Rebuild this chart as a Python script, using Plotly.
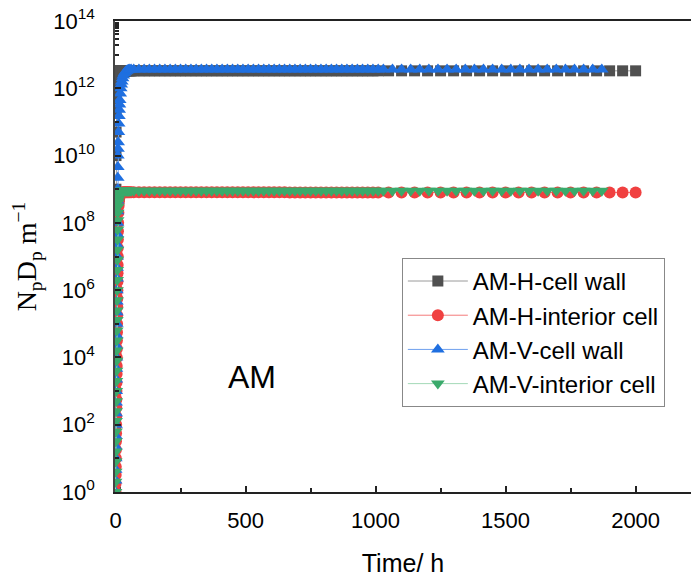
import plotly.graph_objects as go

# ---- time grids (h) ----
t_rise = [0, 0.3, 0.6, 0.9, 1.2, 1.5, 1.8, 2.1, 2.4, 2.7, 3.0, 3.3, 3.6, 3.9, 4.2,
          4.5, 4.8, 5.1, 5.4, 5.7, 6.0, 6.3, 6.6, 6.9, 7.2, 7.5, 7.8, 8.1, 8.4, 8.7, 9.0,
          9.5, 10, 11, 12, 13, 14, 15, 16, 18, 20, 22, 24, 27, 30, 34, 38, 42, 46, 50, 55, 60]
t_mid = [70, 90, 110, 130, 150, 170, 190, 210, 230, 250,
         270, 290, 310, 330, 350, 370, 390, 410, 430, 450,
         470, 490, 510, 530, 550, 570, 590, 610, 630, 650,
         670, 690, 710, 730, 750, 770, 790, 810, 830, 850,
         870, 890, 910, 930, 950, 970, 990, 1010]
t_tail_H = [1050, 1100, 1150, 1200, 1250, 1300, 1350, 1400, 1450, 1500,
            1550, 1600, 1650, 1700, 1750, 1800, 1850, 1900, 1950, 2000]
t_tail_V = [1030, 1065, 1100, 1135, 1170, 1205, 1240, 1275, 1310, 1345,
            1380, 1415, 1450, 1485, 1520, 1555, 1590, 1625, 1660, 1695,
            1730, 1765, 1800, 1835, 1870]

# ---- AM-H-cell wall ----
h_wall_rise = [1, 1e2, 1e4, 1e6, 1e8, 1e9, 1e10, 5e10, 2e11, 5e11,
               1e12, 1.5e12, 2e12, 2.4e12, 2.7e12, 2.9e12, 3.0e12, 3.1e12, 3.15e12, 3.2e12,
               3.25e12, 3.3e12, 3.3e12, 3.3e12, 3.3e12, 3.3e12, 3.3e12, 3.3e12, 3.3e12, 3.3e12,
               3.3e12, 3.3e12, 3.3e12, 3.3e12, 3.3e12, 3.3e12, 3.3e12, 3.3e12, 3.3e12, 3.3e12,
               3.3e12, 3.3e12, 3.3e12, 3.3e12, 3.3e12, 3.3e12, 3.3e12, 3.3e12, 3.3e12, 3.3e12,
               3.3e12, 3.3e12]
h_wall_mid = [3.3e12, 3.3e12, 3.3e12, 3.3e12, 3.3e12, 3.3e12, 3.3e12, 3.3e12, 3.3e12, 3.3e12,
              3.3e12, 3.3e12, 3.3e12, 3.3e12, 3.3e12, 3.3e12, 3.3e12, 3.3e12, 3.3e12, 3.3e12,
              3.3e12, 3.3e12, 3.3e12, 3.3e12, 3.3e12, 3.3e12, 3.3e12, 3.3e12, 3.3e12, 3.3e12,
              3.3e12, 3.3e12, 3.3e12, 3.3e12, 3.3e12, 3.3e12, 3.3e12, 3.3e12, 3.3e12, 3.3e12,
              3.3e12, 3.3e12, 3.3e12, 3.3e12, 3.3e12, 3.3e12, 3.3e12, 3.3e12]
h_wall_tail = [3.3e12, 3.3e12, 3.3e12, 3.3e12, 3.3e12, 3.3e12, 3.3e12, 3.3e12, 3.3e12, 3.3e12,
               3.3e12, 3.3e12, 3.3e12, 3.3e12, 3.3e12, 3.3e12, 3.3e12, 3.3e12, 3.3e12, 3.3e12]

# ---- AM-H-interior cell ----
h_int_rise = [1, 1.8, 3.2, 5.6, 10, 18, 32, 56, 1e2, 1.8e2,
              3.2e2, 5.6e2, 1e3, 1.8e3, 3.2e3, 5.6e3, 1e4, 1.8e4, 3.2e4, 5.6e4,
              1e5, 1.8e5, 3.2e5, 5.6e5, 1e6, 1.8e6, 3.2e6, 5.6e6, 1e7, 1.8e7, 3.2e7,
              5.6e7, 1e8, 2e8, 3.2e8, 4.3e8, 5.2e8, 5.9e8, 6.4e8, 7.1e8, 7.5e8,
              7.8e8, 7.9e8, 8.0e8, 8.1e8, 8.1e8, 8.1e8, 8.1e8, 8.1e8, 8.1e8, 8.1e8, 8.1e8]
h_int_mid = [8.1e8, 8.1e8, 8.1e8, 8.1e8, 8.1e8, 8.1e8, 8.1e8, 8.1e8, 8.1e8, 8.1e8,
             8.1e8, 8.1e8, 8.1e8, 8.1e8, 8.1e8, 8.1e8, 8.1e8, 8.1e8, 8.1e8, 8.1e8,
             8.1e8, 8.1e8, 8.1e8, 8.1e8, 8.1e8, 8.1e8, 8.1e8, 8.1e8, 8.1e8, 8.1e8,
             8.0e8, 8.0e8, 8.0e8, 8.0e8, 8.0e8, 8.0e8, 8.0e8, 8.0e8, 8.0e8, 8.0e8,
             8.0e8, 8.0e8, 8.0e8, 8.0e8, 8.0e8, 8.0e8, 8.0e8, 8.0e8]
h_int_tail = [8.0e8, 8.0e8, 8.0e8, 8.0e8, 8.0e8, 8.0e8, 8.0e8, 8.0e8, 8.0e8, 8.0e8,
              8.0e8, 8.0e8, 8.0e8, 8.0e8, 8.0e8, 8.0e8, 8.0e8, 8.0e8, 8.0e8, 8.0e8]

# ---- AM-V-cell wall ----
v_wall_rise = [1, 2.2, 4.6, 10, 22, 46, 1e2, 2.2e2, 4.6e2, 1e3,
               2.2e3, 4.6e3, 1e4, 2.2e4, 4.6e4, 1e5, 2.2e5, 4.6e5, 1e6, 2.2e6,
               4.6e6, 1e7, 2.2e7, 4.6e7, 1e8, 2.2e8, 4.6e8, 1e9, 2.2e9, 4.6e9, 1e10,
               1.6e10, 2.5e10, 5e10, 9e10, 1.5e11, 2.3e11, 3.3e11, 4.5e11, 7e11, 1e12,
               1.3e12, 1.6e12, 2.0e12, 2.4e12, 2.8e12, 3.1e12, 3.3e12, 3.45e12, 3.55e12, 3.6e12, 3.6e12]
v_wall_mid = [3.6e12, 3.6e12, 3.6e12, 3.6e12, 3.6e12, 3.6e12, 3.6e12, 3.6e12, 3.6e12, 3.6e12,
              3.6e12, 3.6e12, 3.6e12, 3.6e12, 3.6e12, 3.6e12, 3.6e12, 3.6e12, 3.6e12, 3.6e12,
              3.6e12, 3.6e12, 3.6e12, 3.6e12, 3.6e12, 3.6e12, 3.6e12, 3.6e12, 3.6e12, 3.6e12,
              3.6e12, 3.6e12, 3.6e12, 3.6e12, 3.6e12, 3.6e12, 3.6e12, 3.6e12, 3.6e12, 3.6e12,
              3.6e12, 3.6e12, 3.6e12, 3.6e12, 3.6e12, 3.6e12, 3.6e12, 3.6e12]
v_wall_tail = [3.6e12, 3.6e12, 3.6e12, 3.6e12, 3.6e12, 3.6e12, 3.6e12, 3.6e12, 3.6e12, 3.6e12,
               3.6e12, 3.6e12, 3.6e12, 3.6e12, 3.6e12, 3.6e12, 3.6e12, 3.6e12, 3.6e12, 3.6e12,
               3.6e12, 3.6e12, 3.6e12, 3.6e12, 3.6e12]

# ---- AM-V-interior cell ----
v_int_rise = [1, 2, 4, 8, 16, 32, 63, 1.3e2, 2.5e2, 5e2,
              1e3, 2e3, 4e3, 8e3, 1.6e4, 3.2e4, 6.3e4, 1.3e5, 2.5e5, 5e5,
              1e6, 2e6, 4e6, 8e6, 1.6e7, 3.2e7, 6.3e7, 1.2e8, 2e8, 3e8, 4e8,
              4.8e8, 5.4e8, 6.3e8, 7.0e8, 7.5e8, 7.9e8, 8.2e8, 8.4e8, 8.7e8, 8.8e8,
              8.9e8, 9.0e8, 9.0e8, 9.0e8, 9.0e8, 9.0e8, 9.0e8, 9.0e8, 9.0e8, 9.0e8, 9.0e8]
v_int_mid = [9.0e8, 9.0e8, 9.0e8, 9.0e8, 9.0e8, 9.0e8, 9.0e8, 9.0e8, 9.0e8, 9.0e8,
             9.0e8, 9.0e8, 9.0e8, 9.0e8, 9.0e8, 9.0e8, 9.0e8, 9.0e8, 9.0e8, 9.0e8,
             9.0e8, 9.0e8, 9.0e8, 9.0e8, 9.0e8, 9.0e8, 9.0e8, 9.0e8, 9.0e8, 9.0e8,
             9.0e8, 9.0e8, 9.0e8, 9.0e8, 9.0e8, 9.0e8, 9.0e8, 9.0e8, 9.0e8, 9.0e8,
             9.0e8, 9.0e8, 9.0e8, 9.0e8, 9.0e8, 9.0e8, 9.0e8, 9.0e8]
v_int_tail = [9.0e8, 9.0e8, 9.0e8, 9.0e8, 9.0e8, 9.0e8, 9.0e8, 9.0e8, 9.0e8, 9.0e8,
              9.0e8, 9.0e8, 9.0e8, 9.0e8, 9.0e8, 9.0e8, 9.0e8, 9.0e8, 9.0e8, 9.0e8,
              9.0e8, 9.0e8, 9.0e8, 9.0e8, 9.0e8]

series_names = ["AM-H-cell wall", "AM-H-interior cell", "AM-V-cell wall", "AM-V-interior cell"]
x_ticks = [0, 500, 1000, 1500, 2000]
x_minor_vals = [250, 750, 1250, 1750]
y_tick_vals = [1e0, 1e2, 1e4, 1e6, 1e8, 1e10, 1e12, 1e14]
y_tick_text = ["10<sup>0</sup>", "10<sup>2</sup>", "10<sup>4</sup>", "10<sup>6</sup>",
               "10<sup>8</sup>", "10<sup>10</sup>", "10<sup>12</sup>", "10<sup>14</sup>"]
y_minor_vals = [1e1, 1e3, 1e5, 1e7, 1e9, 1e11, 1e13,
                2e13, 3e13, 4e13, 5e13, 6e13, 7e13, 8e13, 9e13]

time_H = t_rise + t_mid + t_tail_H
time_V = t_rise + t_mid + t_tail_V

data = [
    (time_H, h_wall_rise + h_wall_mid + h_wall_tail, "#505050", "#9a9a9a", "square", 11),
    (time_H, h_int_rise + h_int_mid + h_int_tail, "#f04040", "#f47a7a", "circle", 12),
    (time_V, v_wall_rise + v_wall_mid + v_wall_tail, "#1f6fe0", "#6ea0ee", "triangle-up", 12),
    (time_V, v_int_rise + v_int_mid + v_int_tail, "#3aaa6b", "#a3d9b8", "triangle-down", 12),
]

fig = go.Figure()
for name, (xs, ys, mc, lc, sym, sz) in zip(series_names, data):
    fig.add_trace(go.Scatter(
        x=xs, y=ys, name=name, mode="lines+markers",
        line=dict(color=lc, width=1),
        marker=dict(color=mc, symbol=sym, size=sz, line=dict(width=0)),
    ))

fig.add_annotation(x=0.238, y=0.244, xref="paper", yref="paper", text="AM",
                   xanchor="center", yanchor="middle",
                   showarrow=False, font=dict(size=32, color="black",
                                              family="Liberation Sans, Arial"))

fig.update_layout(
    width=691, height=577,
    margin=dict(l=115, r=0, t=21, b=85),
    paper_bgcolor="white", plot_bgcolor="white",
    font=dict(family="Liberation Sans, Arial", color="black", size=22),
    legend=dict(x=0.498, y=0.497, xanchor="left", yanchor="top",
                bordercolor="#888888", borderwidth=1, bgcolor="white",
                font=dict(size=24, family="Liberation Sans, Arial"),
                itemwidth=60, tracegroupgap=0),
    showlegend=True,
)
fig.update_xaxes(
    range=[-2, 2213], showline=True, linecolor="#222222", linewidth=1.5, mirror=True,
    ticks="inside", ticklen=6, tickwidth=1.5, tickcolor="#222222",
    tickvals=x_ticks, ticktext=[str(v) for v in x_ticks],
    minor=dict(tickvals=x_minor_vals, ticks="inside", ticklen=4, tickwidth=1.5, tickcolor="#222222"),
    showgrid=False, zeroline=False, ticklabelstandoff=8,
    tickfont=dict(size=22),
    title=dict(text="Time/ h", font=dict(size=25), standoff=24),
)
fig.update_yaxes(
    type="log", range=[0, 14], showline=True, linecolor="#444444", linewidth=1.5, mirror=False,
    ticks="inside", ticklen=6, tickwidth=1.5, tickcolor="#222222",
    tickvals=y_tick_vals, ticktext=y_tick_text,
    minor=dict(tickvals=y_minor_vals, ticks="inside", ticklen=4, tickwidth=1.5, tickcolor="#222222"),
    showgrid=False, zeroline=False, ticklabelstandoff=14,
    tickfont=dict(size=22),
    title=dict(text="N<sub>p</sub>D<sub>p</sub> m<sup>−1</sup>",
               font=dict(size=28, family="Liberation Serif, Times New Roman"), standoff=8),
)

fig.write_html("out.html")
